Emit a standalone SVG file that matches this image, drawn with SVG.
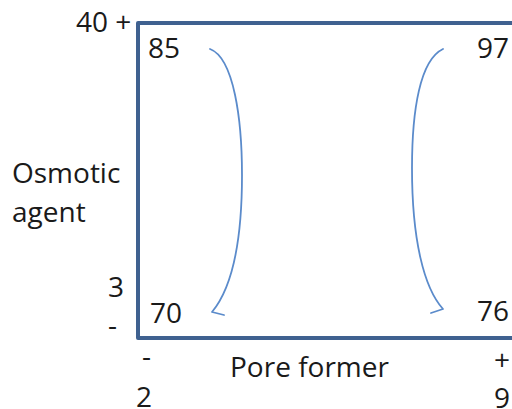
<svg xmlns="http://www.w3.org/2000/svg" width="512" height="409" viewBox="0 0 512 409">
<style>
text{font-family:"Open Sans","Liberation Sans",sans-serif;font-size:28px;fill:#1a1a1a}
.frame{fill:none;stroke:#3F6190;stroke-width:4;stroke-linejoin:round}
.arc{fill:none;stroke:#5B8BCB;stroke-width:1.8;stroke-linecap:round;stroke-linejoin:round}
</style>
<rect width="512" height="409" fill="#ffffff"/>
<g id="frame"><rect class="frame" x="138" y="23" width="390" height="315"/></g>
<g id="axis-labels">
<text x="76" y="32">40 +</text>
<text x="12" y="183">Osmotic</text>
<text x="12" y="222">agent</text>
<text x="108" y="297">3</text>
<text x="108" y="335">-</text>
<text x="142" y="366">-</text>
<text x="136" y="407">2</text>
<text x="230" y="377">Pore former</text>
<text x="494" y="370">+</text>
<text x="494" y="408">9</text>
</g>
<g id="n85"><text x="148" y="58">85</text></g>
<g id="n97"><text x="477" y="58">97</text></g>
<g id="n70"><text x="150" y="323">70</text></g>
<g id="n76"><text x="477" y="321">76</text></g>
<g id="connectors">
<path class="arc" d="M210,49 C234,58 242,120 242,175 C242,240 232,288 212,312 L224,315"/>
<path class="arc" d="M443,49 C420,60 412,110 412,168 C412,240 424,288 443,309 L431,313"/>
</g>
</svg>
